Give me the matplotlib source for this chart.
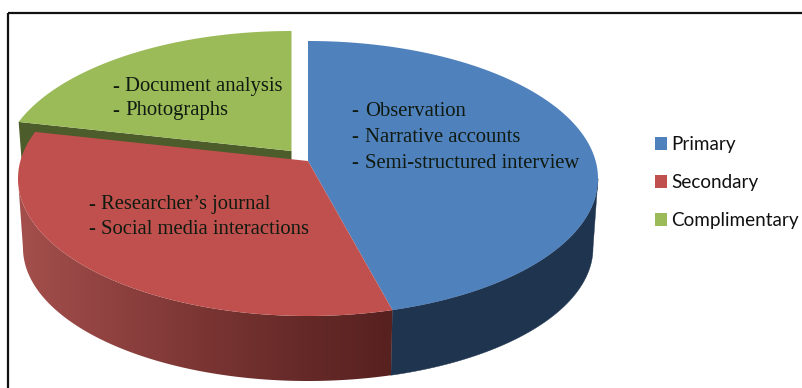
import numpy as np
import matplotlib
matplotlib.use("Agg")
import matplotlib.pyplot as plt
from matplotlib.patches import Polygon, Rectangle, Patch
from matplotlib.colors import LinearSegmentedColormap

# Chart content
categories = ["Primary", "Secondary", "Complimentary"]
shares = [45.3, 35.2, 19.5]
top_colors = ["#4f81bd", "#c0504d", "#9bbb59"]
slice_notes = [
    ["Observation", "Narrative accounts", "Semi-structured interview"],
    ["Researcher’s journal", "Social media interactions"],
    ["Document analysis", "Photographs"],
]

# Projected pie geometry, in pixels
CX, CY, RX, RY = 308.0, 178.5, 290.0, 137.5
APEX_Y = 161.0
BOTTOM_CY, BOTTOM_RX, BOTTOM_RY = 248.0, 285.0, 133.0
DEPTH = 65.0
EXPLODE = (-16.5, -10.0)


def top_arc(t0, t1, n=200):
    t = np.radians(np.linspace(t0, t1, n))
    return np.column_stack([CX + RX * np.sin(t), CY - RY * np.cos(t)])


def bottom_arc(t0, t1, n=200):
    t = np.radians(np.linspace(t0, t1, n))
    return np.column_stack([CX + BOTTOM_RX * np.sin(t), BOTTOM_CY - BOTTOM_RY * np.cos(t)])


def side_band(t0, t1):
    return np.vstack([top_arc(t0, t1), bottom_arc(t1, t0)])


fig = plt.figure(figsize=(8.02, 3.88), dpi=100, facecolor="white")
ax = fig.add_axes([0, 0, 1, 1])
ax.set_xlim(0, 802)
ax.set_ylim(388, 0)
ax.axis("off")

# Outer frame runs off the right and bottom of the canvas
ax.add_patch(Rectangle((8, 13), 900, 500, fill=False, ec="#111111", lw=1.6, zorder=1))

edges = np.cumsum([0.0] + shares) / sum(shares) * 360.0
(b0, b1), (r0, r1), (g0, g1) = zip(edges[:-1], edges[1:])

# Exploded slice: its radial side first, the red slice then hides most of it
dx, dy = EXPLODE
corner = top_arc(g0, g0, 1)[0] + (dx, dy)
apex = np.array([CX + dx, APEX_Y + dy])
ax.add_patch(Polygon([corner, apex, apex + (0, DEPTH), corner + (5, DEPTH)],
                     fc="#4c5c2a", ec="none", zorder=2))
green_top = np.vstack([[apex], top_arc(g0, g1) + (dx, dy)])
ax.add_patch(Polygon(green_top, fc=top_colors[2], ec="none", zorder=3))

# Rim of the blue slice
ax.add_patch(Polygon(side_band(90, b1), fc="#1f344f", ec="#1f344f", lw=0.3, zorder=2))

# Rim of the red slice, shaded from left to right
red_rim = Polygon(side_band(b1, 270), fc="none", ec="none", zorder=2)
ax.add_patch(red_rim)
rim_cmap = LinearSegmentedColormap.from_list(
    "rim", ["#a44f4c", "#8f4240", "#7a3533", "#662a28", "#572120"])
rim_x = CX + RX * np.sin(np.radians(b1))
shade = ax.imshow(np.linspace(0, 1, 256)[None, :], cmap=rim_cmap, aspect="auto",
                  extent=[18, rim_x, 388, 0], zorder=2)
shade.set_clip_path(red_rim)
ax.set_xlim(0, 802)
ax.set_ylim(388, 0)

# Top faces of the blue and red slices
ax.add_patch(Polygon(np.vstack([[(CX, APEX_Y)], top_arc(b0, b1)]),
                     fc=top_colors[0], ec="none", zorder=4))
ax.add_patch(Polygon(np.vstack([[(CX, APEX_Y)], top_arc(r0, r1)]),
                     fc=top_colors[1], ec="none", zorder=4))

# Notes placed on the slices
note_style = dict(family="Liberation Serif", fontsize=14.9, color="#101a10",
                  va="center", ha="left", zorder=6)
note_layout = [(351, 365, [112, 137.5, 163.5]), (88, 101, [205, 230]), (112, 125, [87, 111])]
for notes, (dash_x, text_x, rows) in zip(slice_notes, note_layout):
    for note, row in zip(notes, rows):
        ax.text(dash_x, row, "-", **note_style)
        ax.text(text_x, row, note, **note_style)

# Legend
handles = [Patch(fc=c, ec="none", label=n) for c, n in zip(top_colors, categories)]
ax.legend(handles=handles, loc="center left", bbox_to_anchor=(655, 182.5),
          bbox_transform=ax.transData, frameon=False,
          prop={"family": "Lato", "size": 13.6}, labelcolor="#111111",
          handlelength=0.65, handleheight=0.65, handletextpad=0.2,
          labelspacing=1.12, borderpad=0, borderaxespad=0)

fig.savefig("out.png", dpi=100, facecolor="white")
